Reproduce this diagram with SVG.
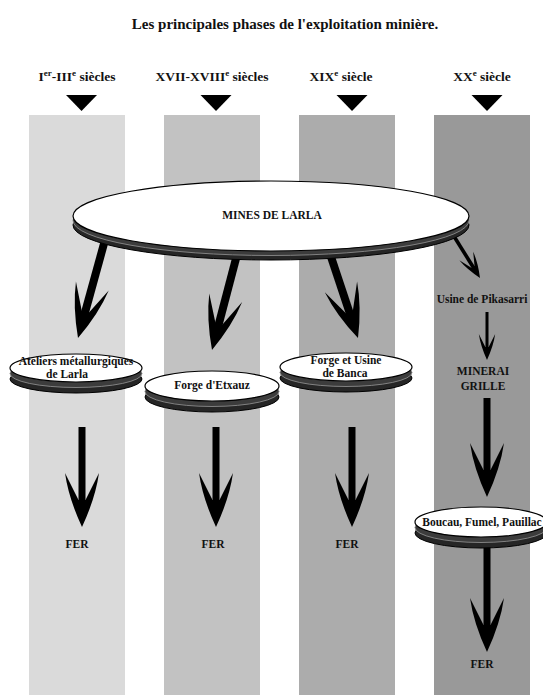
<svg xmlns="http://www.w3.org/2000/svg" xmlns:xlink="http://www.w3.org/1999/xlink" width="543" height="695" viewBox="0 0 543 695">
<style>
  text { font-family: "Liberation Serif", "Times New Roman", serif; font-weight: bold; fill: #111; }
  .title { font-size: 15px; }
  .hdr { font-size: 13.5px; }
  .sup { font-size: 9px; }
  .lbl { font-size: 11.5px; }
  .rimA { fill: #262626; stroke: #000; stroke-width: 1; }
  .rimB { fill: #3c3c3c; stroke: #8a8a8a; stroke-width: 0.9; }
  .face { fill: #fff; stroke: #000; stroke-width: 1.2; }
  .tri { fill: #000; }
  .ar { fill: #000; }
</style>
<defs>
  <path id="head" d="M0,0 Q-13.5,-29 -17,-54 L-3.5,-27 L3.5,-27 L17,-54 Q13.5,-29 0,0 Z"/>
</defs>
<rect x="0" y="0" width="543" height="695" fill="#fff"/>
<g id="columns">
  <rect x="29" y="115" width="96" height="580" fill="#dadada"/>
  <rect x="164" y="115" width="96" height="580" fill="#c2c2c2"/>
  <rect x="299" y="115" width="96" height="580" fill="#acacac"/>
  <rect x="434" y="115" width="96" height="580" fill="#999999"/>
</g>
<g id="title"><text class="title" x="285" y="29" text-anchor="middle">Les principales phases de l'exploitation minière.</text></g>
<g id="headers">
  <text class="hdr" x="77" y="81" text-anchor="middle">I<tspan class="sup" dy="-5">er</tspan><tspan dy="5">-III</tspan><tspan class="sup" dy="-5">e</tspan><tspan dy="5"> siècles</tspan></text>
  <text class="hdr" x="212" y="81" text-anchor="middle">XVII-XVIII<tspan class="sup" dy="-5">e</tspan><tspan dy="5"> siècles</tspan></text>
  <text class="hdr" x="341" y="81" text-anchor="middle">XIX<tspan class="sup" dy="-5">e</tspan><tspan dy="5"> siècle</tspan></text>
  <text class="hdr" x="482" y="81" text-anchor="middle">XX<tspan class="sup" dy="-5">e</tspan><tspan dy="5"> siècle</tspan></text>
  <polygon class="tri" points="66,95 97,95 81.5,111"/>
  <polygon class="tri" points="200.5,95 231.5,95 216,111"/>
  <polygon class="tri" points="336.5,95 367.5,95 352,111"/>
  <polygon class="tri" points="471.5,95 502.5,95 487,111"/>
</g>
<g id="connectors">
  <!-- diagonal arrows from MINES DE LARLA -->
  <g transform="translate(78,338) rotate(15.4)"><rect class="ar" x="-4" y="-106" width="8" height="81"/><use xlink:href="#head" class="ar"/></g>
  <g transform="translate(212,350) rotate(14.7)"><rect class="ar" x="-4" y="-103" width="8" height="78"/><use xlink:href="#head" class="ar"/></g>
  <g transform="translate(358,338) rotate(-18.4)"><rect class="ar" x="-4" y="-92" width="8" height="67"/><use xlink:href="#head" class="ar"/></g>
  <g transform="translate(480,278) rotate(-32)"><rect class="ar" x="-1.8" y="-53" width="3.6" height="42"/><use xlink:href="#head" class="ar" transform="scale(0.48)"/></g>
  <!-- vertical arrows -->
  <g transform="translate(82,527)"><rect class="ar" x="-3.5" y="-100" width="7" height="75"/><use xlink:href="#head" class="ar"/></g>
  <g transform="translate(216,527)"><rect class="ar" x="-3.5" y="-100" width="7" height="75"/><use xlink:href="#head" class="ar"/></g>
  <g transform="translate(352,527)"><rect class="ar" x="-3.5" y="-100" width="7" height="75"/><use xlink:href="#head" class="ar"/></g>
  <g transform="translate(487,360)"><rect class="ar" x="-1.5" y="-48" width="3" height="37"/><use xlink:href="#head" class="ar" transform="scale(0.48)"/></g>
  <g transform="translate(487,497)"><rect class="ar" x="-3.5" y="-99" width="7" height="74"/><use xlink:href="#head" class="ar"/></g>
  <g transform="translate(487,652)"><rect class="ar" x="-3.5" y="-112" width="7" height="87"/><use xlink:href="#head" class="ar"/></g>
</g>
<g id="mines">
  <ellipse class="rimA" cx="271" cy="225" rx="198" ry="35"/>
  <ellipse class="rimB" cx="271" cy="220.5" rx="198" ry="35"/>
  <ellipse class="face" cx="271" cy="216" rx="198" ry="35"/>
  <text class="lbl" x="272" y="219" text-anchor="middle">MINES DE LARLA</text>
</g>
<g id="ateliers">
  <ellipse class="rimA" cx="76" cy="379" rx="66" ry="14"/>
  <ellipse class="rimB" cx="76" cy="373.5" rx="66" ry="14"/>
  <ellipse class="face" cx="76" cy="368" rx="66" ry="14"/>
  <text class="lbl" x="76" y="365" text-anchor="middle">Ateliers métallurgiques</text>
  <text class="lbl" x="67" y="378" text-anchor="middle">de Larla</text>
</g>
<g id="etxauz">
  <ellipse class="rimA" cx="212" cy="397" rx="67" ry="15"/>
  <ellipse class="rimB" cx="212" cy="391.5" rx="67" ry="15"/>
  <ellipse class="face" cx="212" cy="386" rx="67" ry="15"/>
  <text class="lbl" x="212" y="389" text-anchor="middle">Forge d'Etxauz</text>
</g>
<g id="banca">
  <ellipse class="rimA" cx="346" cy="378" rx="66" ry="14"/>
  <ellipse class="rimB" cx="346" cy="372.5" rx="66" ry="14"/>
  <ellipse class="face" cx="346" cy="367" rx="66" ry="14"/>
  <text class="lbl" x="346" y="364" text-anchor="middle">Forge et Usine</text>
  <text class="lbl" x="345" y="377" text-anchor="middle">de Banca</text>
</g>
<g id="pikasarri">
  <text class="lbl" x="482" y="303" text-anchor="middle">Usine de Pikasarri</text>
</g>
<g id="minerai">
  <text class="lbl" x="483" y="375" text-anchor="middle">MINERAI</text>
  <text class="lbl" x="483" y="390" text-anchor="middle">GRILLE</text>
</g>
<g id="boucau">
  <ellipse class="rimA" cx="481" cy="533" rx="66" ry="15"/>
  <ellipse class="rimB" cx="481" cy="527.5" rx="66" ry="15"/>
  <ellipse class="face" cx="481" cy="522" rx="66" ry="15"/>
  <text class="lbl" x="482" y="526" text-anchor="middle">Boucau, Fumel, Pauillac</text>
</g>
<g id="fer1"><text class="lbl" x="77" y="548" text-anchor="middle">FER</text></g>
<g id="fer2"><text class="lbl" x="213" y="548" text-anchor="middle">FER</text></g>
<g id="fer3"><text class="lbl" x="347" y="548" text-anchor="middle">FER</text></g>
<g id="fer4"><text class="lbl" x="482" y="668" text-anchor="middle">FER</text></g>
</svg>
